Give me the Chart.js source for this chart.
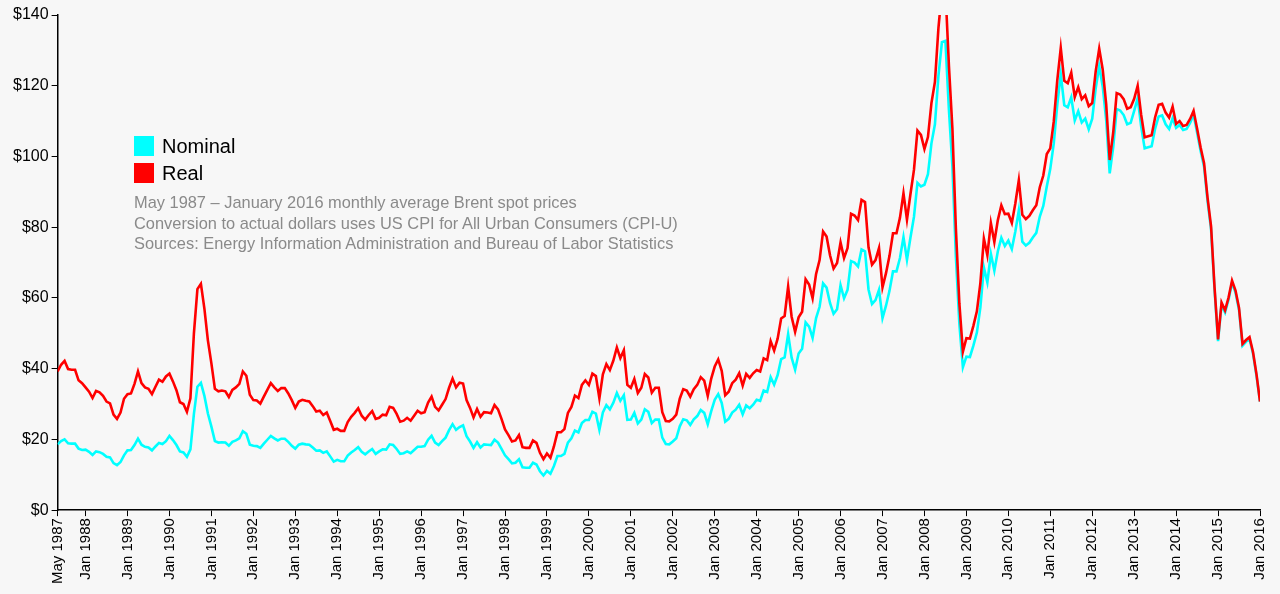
<!DOCTYPE html>
<html>
<head>
<meta charset="utf-8">
<script src="https://cdn.jsdelivr.net/npm/chart.js@4"></script>
<style>
  body { margin: 0; background: #f7f7f7; font-family: "Liberation Sans", Arial, sans-serif; }
  #wrap { position: relative; width: 1280px; height: 594px; }
  .leg { position: absolute; left: 134px; font-size: 20px; color: #000; }
  .leg span { display: inline-block; width: 20px; height: 20px; vertical-align: -3px; margin-right: 8px; }
  .note { position: absolute; left: 134px; top: 192px; font-size: 16.4px; line-height: 20.5px; color: #8a8a8a; }
</style>
</head>
<body>
<div id="wrap">
  <canvas id="c" width="1280" height="594"></canvas>
  <div class="leg" style="top:135px"><span style="background:#00ffff"></span>Nominal</div>
  <div class="leg" style="top:162px"><span style="background:#ff0000"></span>Real</div>
  <div class="note">May 1987 – January 2016 monthly average Brent spot prices<br>Conversion to actual dollars uses US CPI for All Urban Consumers (CPI-U)<br>Sources: Energy Information Administration and Bureau of Labor Statistics</div>
</div>
<script>
// monthly values, May 1987 .. Jan 2016
const nominal = [
  18.6,19.5,20.0,18.9,18.8,18.8,17.4,17.0,
  17.1,16.5,15.6,16.6,16.4,15.9,15.1,14.9,13.3,12.7,13.6,15.5,
  16.9,17.0,18.4,20.2,18.5,17.9,17.7,16.9,18.0,19.0,18.7,19.5,
  21.0,19.8,18.4,16.6,16.3,15.1,17.2,27.2,34.9,36.0,32.3,27.3,
  23.6,19.5,19.1,19.2,19.1,18.2,19.3,19.7,20.3,22.3,21.6,18.5,
  18.2,18.1,17.6,18.8,19.9,21.0,20.3,19.7,20.2,20.2,19.3,18.2,
  17.4,18.5,18.8,18.6,18.5,17.7,16.8,16.9,16.2,16.6,15.2,13.7,
  14.2,13.8,13.8,15.4,16.3,17.0,17.8,16.5,15.8,16.6,17.3,15.9,
  16.6,17.2,17.1,18.6,18.4,17.3,15.9,16.1,16.6,16.1,17.0,17.9,
  17.9,18.1,19.9,21.0,19.1,18.4,19.5,20.5,22.6,24.3,22.7,23.5,
  24.0,20.9,19.4,17.6,19.2,17.7,18.6,18.5,18.4,19.9,19.1,17.3,
  15.5,14.4,13.2,13.4,14.4,12.1,12.0,12.0,13.4,12.9,11.0,9.8,
  11.1,10.3,12.5,15.3,15.3,15.9,19.1,20.3,22.5,22.0,24.6,25.5,
  25.5,27.8,27.3,22.7,27.6,29.7,28.5,30.4,33.1,30.9,32.5,25.5,
  25.6,27.5,24.5,25.6,28.5,27.8,24.6,25.6,25.6,20.5,18.7,18.6,
  19.4,20.3,23.7,25.7,25.4,24.1,25.7,26.6,28.3,27.5,24.3,28.0,
  31.2,32.8,30.3,25.0,25.8,27.6,28.4,29.8,27.1,29.6,28.8,29.8,
  31.2,30.9,33.8,33.4,37.6,35.5,38.2,42.7,43.2,49.8,43.1,39.7,
  44.3,45.6,53.1,51.9,48.7,54.3,57.5,64.1,62.9,58.5,55.5,56.8,
  63.6,59.9,62.3,70.4,70.0,68.9,73.7,73.2,62.4,58.3,59.4,62.3,
  54.3,57.8,62.0,67.5,67.5,71.3,77.2,70.8,77.1,82.9,92.5,91.5,
  92.0,95.0,103.7,109.1,122.8,132.3,132.7,113.2,97.2,71.6,52.5,40.4,
  43.4,43.3,46.5,50.2,57.3,68.6,64.4,72.5,67.7,73.2,77.0,74.7,
  76.2,73.8,78.8,84.8,75.9,74.8,75.6,77.1,78.4,83.0,86.0,91.5,
  96.5,103.7,114.6,123.3,114.5,113.9,116.7,110.2,112.8,109.6,110.7,107.7,
  110.7,119.3,125.5,119.8,110.3,95.2,102.6,113.4,113.0,111.7,109.1,109.5,
  112.9,116.5,108.5,102.3,102.6,102.9,107.9,111.3,111.6,109.1,107.8,110.8,
  108.1,108.9,107.5,107.8,109.5,111.8,106.8,101.6,97.1,87.4,79.4,62.3,
  47.8,58.1,55.9,59.5,64.3,61.5,56.6,46.5,47.6,48.4,44.3,38.0,
  30.7
];
const real = [
  39.2,41.1,42.2,39.9,39.7,39.7,36.7,35.9,
  34.7,33.5,31.7,33.7,33.3,32.3,30.7,30.2,27.0,25.8,27.6,31.5,
  32.8,33.0,35.7,39.2,35.9,34.7,34.3,32.8,34.9,36.9,36.3,37.8,
  38.6,36.4,33.9,30.5,30.0,27.8,31.6,50.0,62.5,64.0,57.0,48.0,
  41.5,34.3,33.6,33.8,33.6,32.0,34.0,34.7,35.7,39.2,38.0,32.6,
  31.1,31.0,30.1,32.1,34.0,35.9,34.7,33.7,34.5,34.5,33.0,31.1,
  28.9,30.7,31.2,30.9,30.7,29.4,27.9,28.1,26.9,27.6,25.2,22.7,
  23.0,22.4,22.4,24.9,26.4,27.5,28.8,26.7,25.6,26.9,28.0,25.8,
  26.1,27.0,26.8,29.2,28.9,27.2,25.0,25.3,26.1,25.3,26.7,28.1,
  27.4,27.7,30.4,32.1,29.2,28.2,29.8,31.4,34.6,37.2,34.7,36.0,
  35.8,31.1,28.9,26.2,28.6,26.4,27.7,27.6,27.4,29.7,28.5,25.8,
  22.8,21.2,19.4,19.7,21.2,17.8,17.6,17.6,19.7,19.0,16.2,14.4,
  16.0,14.8,18.0,22.0,22.0,22.9,27.5,29.2,32.4,31.7,35.4,36.7,
  35.4,38.6,37.9,31.6,38.4,41.3,39.6,42.3,46.0,43.0,45.2,35.4,
  34.6,37.1,33.1,34.6,38.5,37.5,33.2,34.6,34.6,27.7,25.2,25.1,
  25.8,27.0,31.5,34.2,33.8,32.1,34.2,35.4,37.6,36.6,32.3,37.2,
  40.6,42.6,39.4,32.5,33.5,35.9,36.9,38.7,35.2,38.5,37.4,38.7,
  39.6,39.2,42.9,42.4,47.8,45.1,48.5,54.2,54.9,63.2,54.7,50.4,
  54.5,56.1,65.3,63.8,59.9,66.8,70.7,78.8,77.4,72.0,68.3,69.9,
  75.7,71.3,74.1,83.8,83.3,82.0,87.7,87.1,74.3,69.4,70.7,74.1,
  63.0,67.0,71.9,78.3,78.3,82.7,89.6,82.1,89.4,96.2,107.3,106.1,
  102.1,105.5,115.1,121.1,136.3,146.9,147.3,125.7,107.9,79.5,58.3,44.8,
  48.6,48.5,52.1,56.2,64.2,76.8,72.1,81.2,75.8,82.0,86.2,83.7,
  83.8,81.2,86.7,93.3,83.5,82.3,83.2,84.8,86.2,91.3,94.6,100.7,
  102.3,109.9,121.5,130.7,121.4,120.7,123.7,116.8,119.6,116.2,117.3,114.2,
  115.1,124.1,130.5,124.6,114.7,99.0,106.7,117.9,117.5,116.2,113.5,113.9,
  116.3,120.0,111.8,105.4,105.7,106.0,111.1,114.6,114.9,112.4,111.0,114.1,
  109.2,110.0,108.6,108.9,110.6,112.9,107.9,102.6,98.1,88.3,80.2,62.9,
  48.3,58.7,56.5,60.1,64.9,62.1,57.2,47.0,48.1,48.9,44.7,38.4,
  30.7
];
const yTicks = [0, 20, 40, 60, 80, 100, 120, 140];

// month index 0 = May 1987
const monthName = i => {
  const m = i + 4;
  const y = 1987 + Math.floor(m / 12);
  return m % 12 === 0 ? 'Jan ' + y : (i === 0 ? 'May 1987' : '');
};
const xTickPos = [0];
for (let i = 8; i < nominal.length; i += 12) xTickPos.push(i);

const pts = arr => arr.map((v, i) => ({ x: i, y: v }));

new Chart(document.getElementById('c'), {
  type: 'line',
  data: {
    datasets: [
      { label: 'Real', data: pts(real), borderColor: '#ff0000', borderWidth: 2.6, pointRadius: 0, order: 1 },
      { label: 'Nominal', data: pts(nominal), borderColor: '#00ffff', borderWidth: 2.6, pointRadius: 0, order: 2 }
    ]
  },
  options: {
    responsive: false,
    animation: false,
    layout: { padding: { top: 15, right: 18, left: 10, bottom: 8 } },
    plugins: { legend: { display: false }, tooltip: { enabled: false } },
    scales: {
      x: {
        type: 'linear', min: 0, max: nominal.length - 1,
        afterBuildTicks: s => { s.ticks = xTickPos.map(v => ({ value: v })); },
        ticks: { autoSkip: false, maxRotation: 90, minRotation: 90, color: '#000', padding: 2,
                 font: { family: 'Liberation Sans', size: 15 }, callback: v => monthName(v) },
        grid: { drawOnChartArea: false, color: '#000', tickLength: 6 },
        border: { color: '#000', width: 1.5 }
      },
      y: {
        min: 0, max: 140,
        afterBuildTicks: s => { s.ticks = yTicks.map(v => ({ value: v })); },
        ticks: { color: '#000', font: { family: 'Liberation Sans', size: 16 }, callback: v => '$' + v },
        grid: { drawOnChartArea: false, color: '#000', tickLength: 6 },
        border: { color: '#000', width: 1.5 }
      }
    }
  }
});
</script>
</body>
</html>
